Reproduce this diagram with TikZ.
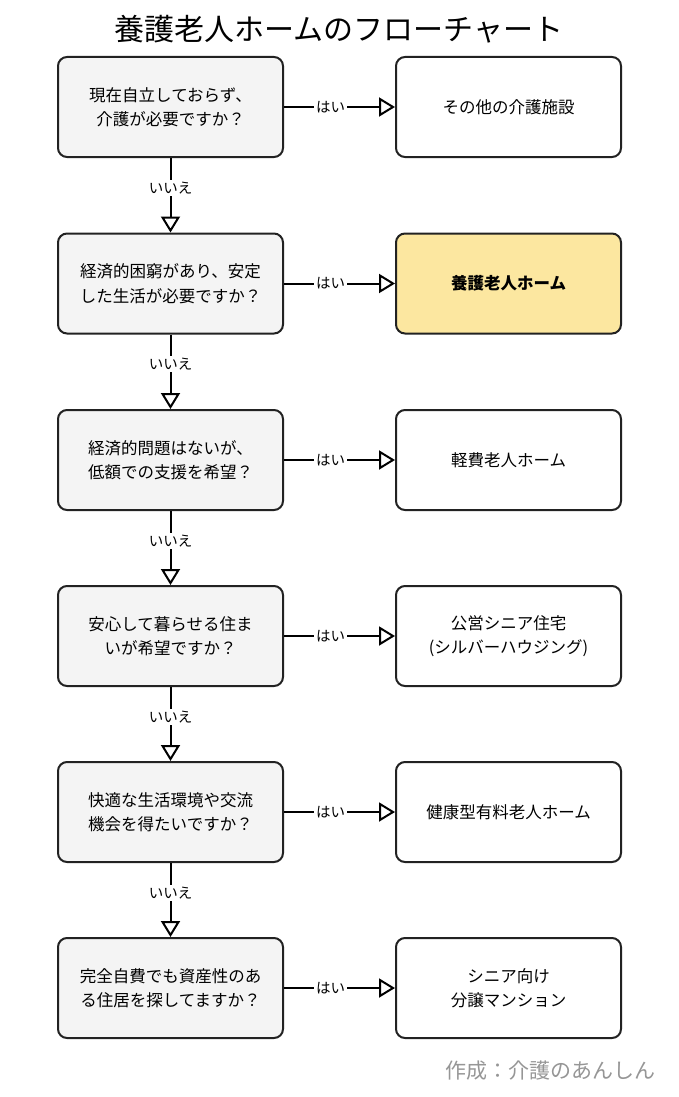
\documentclass[tikz,border=0pt]{standalone}
\usepackage{fontspec}
\setmainfont{Noto Sans CJK JP}
\usetikzlibrary{arrows.meta}
\definecolor{qgray}{RGB}{244,244,244}
\definecolor{hilite}{RGB}{252,231,160}
\definecolor{edgegray}{RGB}{34,34,34}
\definecolor{creditgray}{RGB}{150,150,150}
\begin{document}
\begin{tikzpicture}[x=1pt,y=-1pt,-{Triangle[open,length=16pt,width=19pt]},line width=2pt,
  q/.style={draw=edgegray,rounded corners=9pt,fill=qgray,minimum width=225pt,minimum height=100pt,align=center,font=\fontsize{16.5}{24.5}\selectfont},
  res/.style={q,fill=white},
  lbl/.style={fill=white,inner sep=2pt,font=\fontsize{14.5}{14.5}\selectfont}]

\useasboundingbox (0,0) rectangle (679,1097);

\node (title) at (339,29) {\fontsize{30}{30}\selectfont 養護老人ホームのフローチャート};

\node[q] (Q1) at (170.5,107) {現在自立しておらず、\\介護が必要ですか？};
\node[q] (Q2) at (170.5,283.5) {経済的困窮があり、安定\\した生活が必要ですか？};
\node[q] (Q3) at (170.5,460) {経済的問題はないが、\\低額での支援を希望？};
\node[q] (Q4) at (170.5,636) {安心して暮らせる住ま\\いが希望ですか？};
\node[q] (Q5) at (170.5,812) {快適な生活環境や交流\\機会を得たいですか？};
\node[q] (Q6) at (170.5,988) {完全自費でも資産性のあ\\る住居を探してますか？};

\node[res] (R1) at (508.5,107) {その他の介護施設};
\node[res,fill=hilite,font=\fontsize{16.5}{24.5}\selectfont\bfseries] (R2) at (508.5,283.5) {養護老人ホーム};
\node[res] (R3) at (508.5,460) {軽費老人ホーム};
\node[res] (R4) at (508.5,636) {公営シニア住宅\\(シルバーハウジング)};
\node[res] (R5) at (508.5,812) {健康型有料老人ホーム};
\node[res] (R6) at (508.5,988) {シニア向け\\分譲マンション};

\path (Q1) edge node[lbl,pos=0.42] {はい} (R1);
\path (Q2) edge node[lbl,pos=0.42] {はい} (R2);
\path (Q3) edge node[lbl,pos=0.42] {はい} (R3);
\path (Q4) edge node[lbl,pos=0.42] {はい} (R4);
\path (Q5) edge node[lbl,pos=0.42] {はい} (R5);
\path (Q6) edge node[lbl,pos=0.42] {はい} (R6);

\path (Q1) edge node[lbl,pos=0.4] {いいえ} (Q2);
\path (Q2) edge node[lbl,pos=0.4] {いいえ} (Q3);
\path (Q3) edge node[lbl,pos=0.4] {いいえ} (Q4);
\path (Q4) edge node[lbl,pos=0.4] {いいえ} (Q5);
\path (Q5) edge node[lbl,pos=0.4] {いいえ} (Q6);

\node[anchor=east,text=creditgray] (credit) at (660,1071) {\fontsize{21}{21}\selectfont 作成：介護のあんしん};
\end{tikzpicture}
\end{document}
